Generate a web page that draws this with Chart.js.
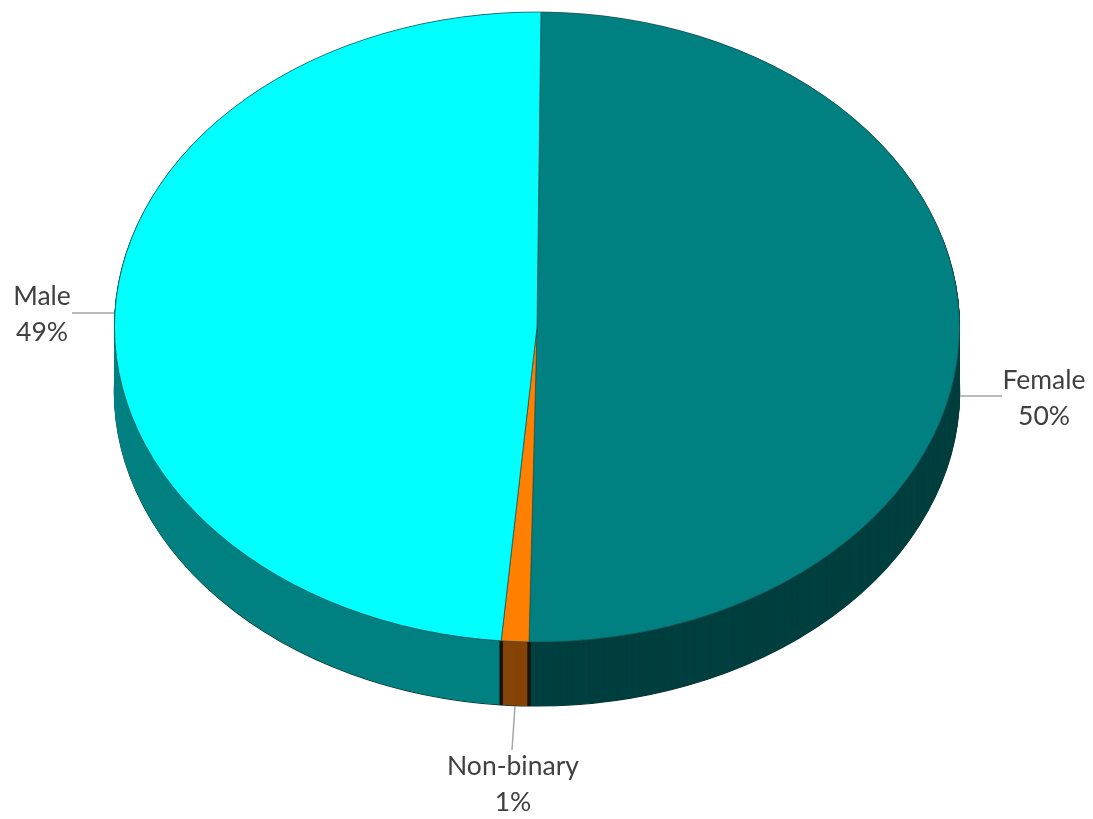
<!DOCTYPE html>
<html>
<head>
<meta charset="utf-8">
<title>Gender</title>
<script src="https://cdn.jsdelivr.net/npm/chart.js@4/dist/chart.umd.js"></script>
<style>
    html, body { margin: 0; padding: 0; background: #fff; }
    canvas { display: block; }
</style>
</head>
<body>
<canvas id="chart" width="1093" height="819"></canvas>
<script>
const categories = ['Female', 'Non-binary', 'Male'];
const shares = [50.15, 1.05, 48.8];
const faceColors = ['#008080', '#ff8000', '#00ffff'];
const sideColors = ['#004040', '#864508', '#008080'];

// tilted pie: where the chart's circle ends up on the page
const PIE = { cx: 537, cy: 327, rx: 422.5, ry: 315, depth: 64 };
const EDGE = '#1f4f4f';

// anchor of each label's centre, first baseline, and its leader line
const LABELS = [
    { x: 1044, y: 389, line: [960, 396, 1002, 396] },
    { x: 513, y: 775, line: [515, 706, 512, 750] },
    { x: 42, y: 305, line: [72, 313, 114, 313] }
];

function applyTilt(ctx, arc, dy) {
    ctx.translate(PIE.cx, PIE.cy + dy);
    ctx.scale(PIE.rx / arc.outerRadius, PIE.ry / arc.outerRadius);
    ctx.translate(-arc.x, -arc.y);
}

function drawArcAs(arc, ctx, fill, stroke, width) {
    const copy = Object.create(arc);
    copy.options = { ...arc.options, backgroundColor: fill, borderColor: stroke, borderWidth: width };
    Chart.ArcElement.prototype.draw.call(copy, ctx);
}

const tiltPlugin = {
    id: 'tilt',
    beforeDatasetsDraw(chart) {
        const ctx = chart.ctx;
        const arcs = chart.getDatasetMeta(0).data;

        // side wall, stacked from the bottom up
        for (let dy = PIE.depth; dy > 0; dy -= 0.5) {
            arcs.forEach((arc, i) => {
                ctx.save();
                applyTilt(ctx, arc, dy);
                if (dy === PIE.depth) drawArcAs(arc, ctx, sideColors[i], '#0b2f2f', 1.5);
                else drawArcAs(arc, ctx, sideColors[i], sideColors[i], 1);
                ctx.restore();
            });
        }

        // seams on the wall, only on slice edges that face the viewer
        ctx.save();
        ctx.strokeStyle = '#1a1208';
        ctx.lineWidth = 3;
        arcs.forEach(arc => {
            [arc.startAngle, arc.endAngle].forEach(a => {
                if (Math.sin(a) <= 0) return;
                const x = PIE.cx + PIE.rx * Math.cos(a);
                const y = PIE.cy + PIE.ry * Math.sin(a);
                ctx.beginPath();
                ctx.moveTo(x, y);
                ctx.lineTo(x, y + PIE.depth);
                ctx.stroke();
            });
        });
        ctx.restore();

        ctx.save();
        applyTilt(ctx, arcs[0], 0);
    },
    afterDatasetsDraw(chart) {
        chart.ctx.restore();
    },
    afterDraw(chart) {
        const ctx = chart.ctx;
        ctx.save();
        ctx.strokeStyle = '#a6a6a6';
        ctx.lineWidth = 1.5;
        ctx.fillStyle = '#404040';
        ctx.font = '26.5px Lato, "Open Sans", sans-serif';
        ctx.textAlign = 'center';
        ctx.textBaseline = 'alphabetic';
        LABELS.forEach((lab, i) => {
            ctx.beginPath();
            ctx.moveTo(lab.line[0], lab.line[1]);
            ctx.lineTo(lab.line[2], lab.line[3]);
            ctx.stroke();
            ctx.fillText(categories[i], lab.x, lab.y);
            ctx.fillText(`${Math.round(shares[i])}%`, lab.x, lab.y + 36);
        });
        ctx.restore();
    }
};

new Chart(document.getElementById('chart').getContext('2d'), {
    type: 'pie',
    data: {
        labels: categories,
        datasets: [{
            data: shares,
            backgroundColor: faceColors,
            borderColor: EDGE,
            borderWidth: 0.8,
            clip: false
        }]
    },
    options: {
        responsive: false,
        animation: false,
        rotation: 0.54,
        layout: { padding: 0 },
        plugins: { legend: { display: false }, tooltip: { enabled: false } }
    },
    plugins: [tiltPlugin]
});
</script>
</body>
</html>
